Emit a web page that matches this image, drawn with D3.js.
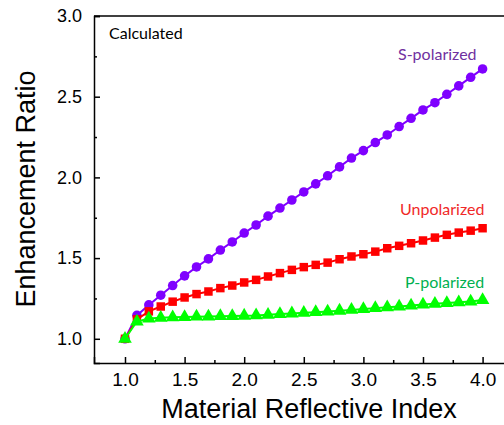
<!DOCTYPE html>
<html>
<head>
<meta charset="utf-8">
<script src="https://cdn.jsdelivr.net/npm/d3@7"></script>
<style>
  body { margin: 0; background: #fff; }
  svg { display: block; }
</style>
</head>
<body>
<div id="chart"></div>
<script>
// refractive index values (x)
var index_values = d3.range(31).map(i => +(1 + i * 0.1).toFixed(1));

var s_polarized = [1.0, 1.145, 1.21, 1.27, 1.33, 1.39, 1.445, 1.495, 1.55, 1.60, 1.655,
    1.705, 1.76, 1.81, 1.86, 1.91, 1.96, 2.01, 2.065, 2.12, 2.166,
    2.216, 2.263, 2.315, 2.366, 2.418, 2.463, 2.515, 2.567, 2.62, 2.672];

var unpolarized = [1.0, 1.12, 1.17, 1.20, 1.23, 1.256, 1.277, 1.293, 1.314, 1.33, 1.349,
    1.365, 1.386, 1.407, 1.427, 1.444, 1.458, 1.472, 1.493, 1.51, 1.524,
    1.54, 1.561, 1.576, 1.592, 1.609, 1.627, 1.644, 1.658, 1.67, 1.685];

var p_polarized = [1.0, 1.107, 1.125, 1.13, 1.133, 1.135, 1.137, 1.138, 1.14, 1.141, 1.143,
    1.145, 1.149, 1.153, 1.157, 1.161, 1.165, 1.169, 1.174, 1.179, 1.184,
    1.19, 1.195, 1.2, 1.206, 1.212, 1.217, 1.221, 1.226, 1.231, 1.24];

var x_ticks = [1.0, 1.5, 2.0, 2.5, 3.0, 3.5, 4.0];
var x_minor = [1.25, 1.75, 2.25, 2.75, 3.25, 3.75];
var y_ticks = [1.0, 1.5, 2.0, 2.5, 3.0];
var y_minor = [1.25, 1.75, 2.25, 2.75];

var series = [
    {name: "S-polarized", values: s_polarized, color: "#7f00ff", label: "#7030a0", symbol: d3.symbolCircle, size: 72, lx: 398, ly: 60},
    {name: "Unpolarized", values: unpolarized, color: "#ff0000", label: "#f02828", symbol: d3.symbolSquare, size: 72, lx: 400, ly: 215},
    {name: "P-polarized", values: p_polarized, color: "#00ff00", label: "#00b050", symbol: d3.symbolTriangle, size: 80, lx: 405, ly: 288}
];

var width = 504, height = 425;
var margin = {top: 16, right: -2, bottom: 62, left: 94};

var svg = d3.select("#chart")
    .append("svg")
    .attr("width", width)
    .attr("height", height);

var x = d3.scaleLinear()
    .domain([0.74, 4.2])
    .range([margin.left, margin.left + 3.46 * 119.2]);

var y = d3.scaleLinear()
    .domain([0.85, 3.0])
    .range([height - margin.bottom, margin.top]);

var plotBottom = y(0.85), plotTop = y(3.0);

// frame (top and left/bottom axes; the right side runs off the picture)
svg.append("line")
    .attr("x1", margin.left).attr("x2", x(4.2))
    .attr("y1", plotTop).attr("y2", plotTop)
    .attr("stroke", "#000").attr("stroke-width", 1.5);

var xAxis = svg.append("g")
    .attr("transform", "translate(0," + plotBottom + ")")
    .call(d3.axisBottom(x).tickValues(x_ticks).tickSize(-6).tickPadding(10)
        .tickFormat(d3.format(".1f")));
xAxis.select(".domain").attr("stroke-width", 1.5);
xAxis.selectAll(".tick line").attr("stroke-width", 1.5);
xAxis.selectAll("text")
    .style("font", "19px 'Liberation Sans', Arial, sans-serif")
    .attr("fill", "#000");

svg.append("g")
    .attr("transform", "translate(0," + plotBottom + ")")
    .call(d3.axisBottom(x).tickValues(x_minor).tickSize(-3).tickFormat(""))
    .call(g => g.select(".domain").remove())
    .selectAll("line").attr("stroke-width", 1.5);

var yAxis = svg.append("g")
    .attr("transform", "translate(" + margin.left + ",0)")
    .call(d3.axisLeft(y).tickValues(y_ticks).tickSize(-6).tickPadding(12)
        .tickFormat(d3.format(".1f")));
yAxis.select(".domain").attr("stroke-width", 1.5);
yAxis.selectAll(".tick line").attr("stroke-width", 1.5);
yAxis.selectAll("text")
    .style("font", "18px 'Liberation Sans', Arial, sans-serif")
    .attr("fill", "#000");

svg.append("g")
    .attr("transform", "translate(" + margin.left + ",0)")
    .call(d3.axisLeft(y).tickValues(y_minor).tickSize(-3).tickFormat(""))
    .call(g => g.select(".domain").remove())
    .selectAll("line").attr("stroke-width", 1.5);

var line = d3.line()
    .x((d, i) => x(index_values[i]))
    .y(d => y(d));

series.forEach(function(s) {
    svg.append("path")
        .datum(s.values)
        .attr("fill", "none")
        .attr("stroke", s.color)
        .attr("stroke-width", 2)
        .attr("d", line);

    svg.selectAll(null)
        .data(s.values)
        .join("path")
        .attr("transform", (d, i) => "translate(" + x(index_values[i]) + "," + y(d) + ")")
        .attr("d", d3.symbol().type(s.symbol).size(s.size))
        .attr("fill", s.color);

    svg.append("text")
        .attr("x", s.lx)
        .attr("y", s.ly)
        .attr("fill", s.label)
        .style("font", "16px Lato, sans-serif")
        .text(s.name);
});

svg.append("text")
    .attr("x", 109)
    .attr("y", 39)
    .attr("fill", "#000")
    .style("font", "16px Lato, sans-serif")
    .text("Calculated");

svg.append("text")
    .attr("x", 309)
    .attr("y", 418)
    .attr("text-anchor", "middle")
    .style("font", "27px 'Liberation Sans', Arial, sans-serif")
    .text("Material Reflective Index");

svg.append("text")
    .attr("transform", "translate(35,189) rotate(-90)")
    .attr("text-anchor", "middle")
    .style("font", "27px 'Liberation Sans', Arial, sans-serif")
    .text("Enhancement Ratio");
</script>
</body>
</html>
